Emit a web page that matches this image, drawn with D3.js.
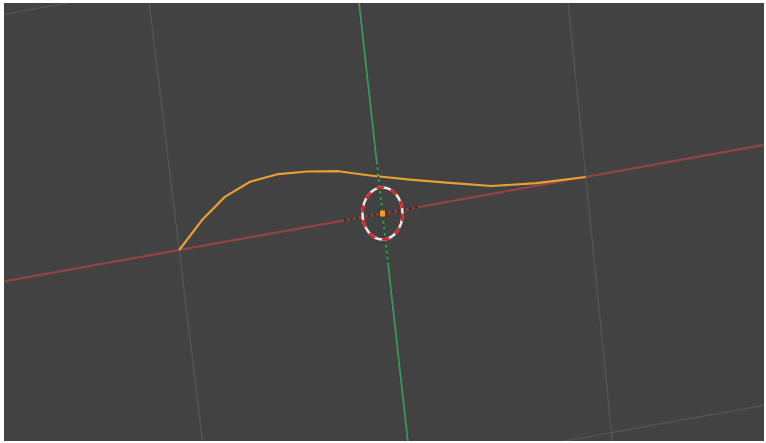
<!DOCTYPE html>
<html>
<head>
<meta charset="utf-8">
<script src="https://cdnjs.cloudflare.com/ajax/libs/d3/7.8.5/d3.min.js"></script>
<style>
  html, body { margin: 0; padding: 0; background: #ffffff; }
  svg { display: block; }
</style>
</head>
<body>
<svg width="766" height="443"></svg>
<script>
// world grid lines (blender units), 0 is drawn as the axis
var gridX = [-4, -3, -2, -1, 1, 2, 3, 4];
var gridY = [-4, -3, -2, -1, 1, 2, 3, 4];

// bezier curve points (world X / Y)
var curveX = [-1.00, -0.87, -0.75, -0.62, -0.48, -0.34, -0.19, -0.03, 0.15, 0.34, 0.54, 0.76, 1.00];
var curveY = [ 0.00,  0.10,  0.17,  0.21,  0.22,  0.21,  0.19,  0.15, 0.11, 0.07, 0.03, 0.01, 0.00];

// 3d cursor and object origin
var cursorPos = [0, 0];
var originPos = [0, 0];

var svg = d3.select("svg"),
    width = +svg.attr("width"),
    height = +svg.attr("height");

// view camera: world -> view units (slight perspective along Y)
var cam = {ax: 1, ay: -0.1415, bx: -0.1796, by: -1.2718, w: -0.013};

function view(X, Y) {
  var q = 1 + cam.w * Y;
  return [(X * cam.ax + Y * cam.ay) / q, (X * cam.bx + Y * cam.by) / q];
}

var x = d3.scaleLinear().domain([-1, 1]).range([382.5 - 203.25, 382.5 + 203.25]);
var y = d3.scaleLinear().domain([-1, 1]).range([213.5 - 203.25, 213.5 + 203.25]);

function px(p) { return x(view(p[0], p[1])[0]); }
function py(p) { return y(view(p[0], p[1])[1]); }

var line = d3.line()
    .x(function(d) { return px(d); })
    .y(function(d) { return py(d); });

svg.append("defs").append("clipPath").attr("id", "vp")
  .append("rect")
    .attr("x", 4).attr("y", 3)
    .attr("width", 760).attr("height", 438);

//viewport background
svg.append("rect")
    .attr("x", 4).attr("y", 3)
    .attr("width", 760).attr("height", 438)
    .attr("fill", "#424242");

var g = svg.append("g").attr("clip-path", "url(#vp)");

//Grid
g.selectAll(".gx")
  .data(gridX)
  .enter().append("path")
    .attr("class", "gx")
    .attr("d", function(d) { return line([[d, -8], [d, 8]]); })
    .attr("fill", "none")
    .attr("stroke", "#535353")
    .attr("stroke-width", 1.5);

g.selectAll(".gy")
  .data(gridY)
  .enter().append("path")
    .attr("class", "gy")
    .attr("d", function(d) { return line([[-8, d], [8, d]]); })
    .attr("fill", "none")
    .attr("stroke", "#535353")
    .attr("stroke-width", 1.5);

//X axis (red) and Y axis (green)
g.append("path")
    .attr("d", line([[-12, 0], [12, 0]]))
    .attr("fill", "none")
    .attr("stroke", "#914446")
    .attr("stroke-width", 2.2);

g.append("path")
    .attr("d", line([[0, -12], [0, 12]]))
    .attr("fill", "none")
    .attr("stroke", "#3a9a5c")
    .attr("stroke-width", 1.7);

//Curve
var pts = curveX.map(function(d, i) { return [d, curveY[i]]; });
g.append("path")
    .datum(pts)
    .attr("d", line)
    .attr("fill", "none")
    .attr("stroke", "#e9a032")
    .attr("stroke-width", 2.2)
    .attr("stroke-linejoin", "round");

//3D cursor crosshair
var cx = cursorPos[0], cy = cursorPos[1];
[[[cx - 0.19, cy], [cx + 0.19, cy]], [[cx, cy - 0.19], [cx, cy + 0.19]]].forEach(function(seg) {
  g.append("path")
    .attr("d", line(seg))
    .attr("fill", "none")
    .attr("stroke", "#111")
    .attr("stroke-opacity", 0.75)
    .attr("stroke-width", 1.4)
    .attr("stroke-dasharray", "3,3");
});

//3D cursor ring
var ring = g.append("g")
    .attr("transform", "translate(" + px(cursorPos) + "," + py(cursorPos) + ")");
ring.append("ellipse")
    .attr("rx", 20).attr("ry", 26)
    .attr("fill", "none")
    .attr("stroke", "#e8e8e8")
    .attr("stroke-width", 2.5);
ring.append("ellipse")
    .attr("rx", 20).attr("ry", 26)
    .attr("fill", "none")
    .attr("stroke", "#e01e1e")
    .attr("stroke-width", 2.5)
    .attr("stroke-dasharray", "7.3,7.3");

//Object origin
g.append("rect")
    .attr("x", px(originPos) - 3)
    .attr("y", py(originPos) - 3.5)
    .attr("width", 6).attr("height", 7)
    .attr("fill", "#f0a21e")
    .attr("stroke", "#3a2a10")
    .attr("stroke-width", 0.8);
</script>
</body>
</html>
